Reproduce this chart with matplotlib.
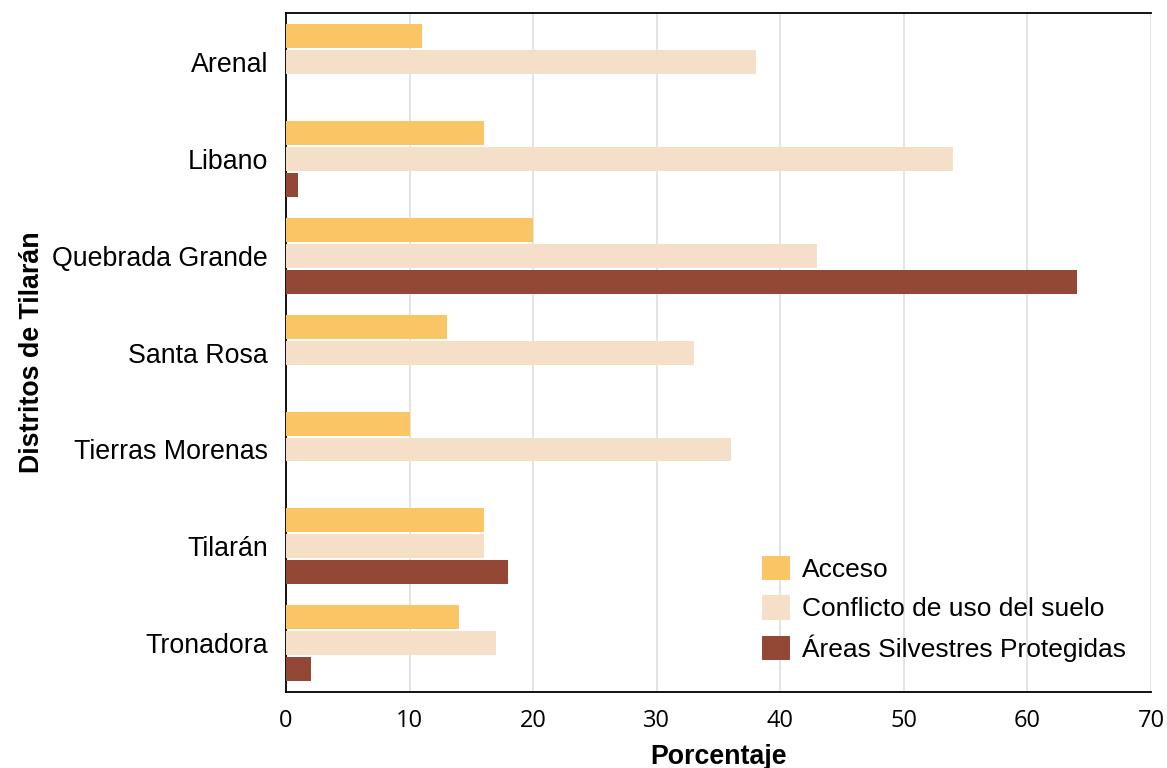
import numpy as np
import matplotlib.pyplot as plt
from matplotlib.patches import Patch

# district data (percentages)
distritos = ["Arenal", "Libano", "Quebrada Grande", "Santa Rosa",
             "Tierras Morenas", "Tilarán", "Tronadora"]
acceso = [11, 16, 20, 13, 10, 16, 14]
conflicto = [38, 54, 43, 33, 36, 16, 17]
areas_protegidas = [0, 1, 64, 0, 0, 18, 2]

series_names = ["Acceso", "Conflicto de uso del suelo", "Áreas Silvestres Protegidas"]
colors = ["#FAC564", "#F5DFC9", "#934835"]

fig = plt.figure(figsize=(11.67, 7.68), dpi=100)
ax = fig.add_axes([0.2451, 0.099, 0.7412, 0.884])

y = np.arange(len(distritos))
step = 26 / 97
height = 24 / 97
for k, (vals, col) in enumerate(zip([acceso, conflicto, areas_protegidas], colors)):
    ax.barh(y + (k - 1) * step, vals, height=height, color=col,
            edgecolor="none", zorder=3)

ax.set_ylim(len(distritos) - 0.5, -0.5)
ax.set_xlim(0, 70)
ax.set_xticks(np.arange(0, 71, 10))
ax.set_yticks(y)
ax.set_yticklabels(distritos, family="Liberation Sans", fontsize=19.3)
for lab in ax.get_xticklabels():
    lab.set_family("Open Sans")
    lab.set_fontsize(17)
ax.tick_params(axis="both", length=0)
ax.tick_params(axis="y", pad=13)
ax.tick_params(axis="x", pad=12)

ax.grid(axis="x", color="#DDDDDD", linewidth=1.1, zorder=0)
ax.grid(axis="y", visible=False)
for side in ["top", "left", "bottom"]:
    ax.spines[side].set_color("black")
    ax.spines[side].set_linewidth(1.3)
ax.spines["right"].set_visible(False)

ax.set_xlabel("Porcentaje", family="Liberation Sans", fontweight="bold",
              fontsize=19.3, labelpad=8)
ax.set_ylabel("Distritos de Tilarán", family="Liberation Sans", fontweight="bold",
              fontsize=19.3, labelpad=5.5)

handles = [Patch(facecolor=c, edgecolor="none") for c in colors]
leg = ax.legend(handles, series_names, loc="lower right",
                bbox_to_anchor=(0.998, 0.009), frameon=False,
                prop={"family": "Liberation Sans", "size": 19},
                handlelength=1.05, handleheight=1.05, handletextpad=0.45,
                labelspacing=0.5)

fig.savefig("out.png", dpi=100)
